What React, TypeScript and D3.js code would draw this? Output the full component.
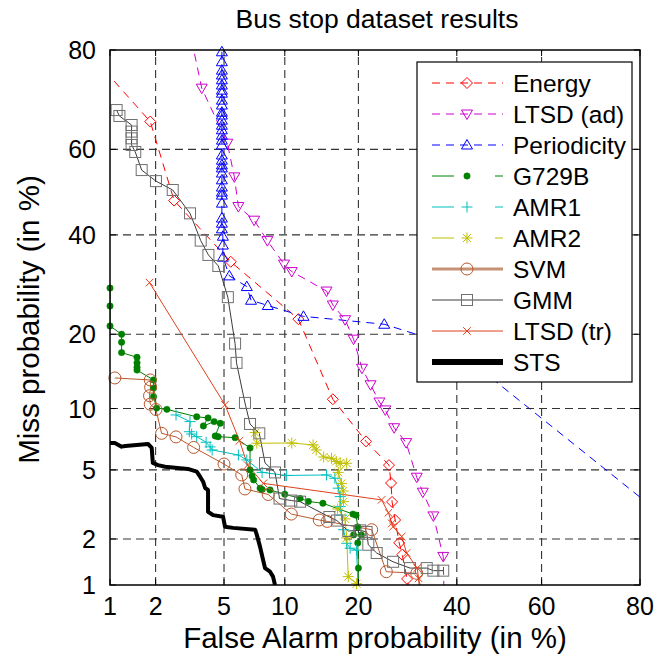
import React from 'react';
import * as d3 from 'd3';

type Pt = [number, number];

const title = 'Bus stop dataset results';
const xLabel = 'False Alarm probability (in %)';
const yLabel = 'Miss probability (in %)';
const xTicks = [1, 2, 5, 10, 20, 40, 60, 80];
const yTicks = [1, 2, 5, 10, 20, 40, 60, 80];

const energy: Pt[] = [[0.92,76.4],[1.85,66.2],[2.6,48.0],[5.43,34.0],[11.5,22.6],[16.0,11.0],[21.3,7.0],[25.5,5.3],[25.9,4.25],[26.1,3.33],[26.7,2.61],[27.5,1.89],[28.1,1.59],[29.1,1.1],[29.7,0.85]];
const ltsdAd: Pt[] = [[3.3,81.6],[3.77,73.1],[5.21,61.4],[5.67,53.6],[5.95,46.6],[7.15,43.4],[8.29,38.7],[9.92,33.5],[10.75,31.9],[15.1,27.9],[16.0,25.2],[17.85,22.5],[19.2,19.2],[20.6,14.85],[22.1,12.7],[23.7,10.7],[24.8,9.86],[26.5,8.15],[28.9,6.9],[31.1,4.57],[32.4,3.78],[34.7,2.76],[36.9,1.55],[37.1,0.79]];
const periodicity: Pt[] = [[4.87,79.7],[4.87,78.0],[4.87,76.5],[4.87,75.6],[4.87,74.7],[4.87,73.7],[4.87,72.7],[4.87,72.1],[4.87,70.7],[4.87,69.7],[4.87,68.2],[4.87,67.6],[4.87,66.5],[4.87,65.4],[4.87,64.4],[4.87,63.2],[4.87,62.1],[4.87,61.0],[4.87,58.7],[4.87,57.5],[4.87,56.4],[4.87,55.7],[4.87,54.5],[4.87,52.9],[4.87,51.2],[4.87,50.0],[4.87,49.3],[4.87,47.4],[4.87,43.9],[4.87,42.7],[4.87,41.4],[4.93,39.7],[4.93,37.7],[4.93,35.0],[5.34,31.0],[6.57,28.8],[6.9,26.1],[8.33,25.1],[12.1,23.1],[24.6,21.7],[38.4,18.3],[80.8,3.37]];
const g729b: Pt[] = [[1.0,28.5],[1.0,25.0],[1.0,21.4],[1.2,20.0],[1.2,18.7],[1.2,17.1],[1.52,16.4],[1.52,15.6],[1.52,15.0],[1.52,14.6],[1.94,13.3],[1.94,12.3],[1.94,11.3],[2.03,10.05],[2.35,9.92],[3.53,9.17],[4.09,9.06],[3.85,8.31],[4.42,8.71],[4.77,8.55],[4.48,7.44],[4.65,7.38],[5.72,7.3],[6.82,6.49],[6.82,5.0],[6.98,4.64],[7.11,4.42],[7.65,3.98],[7.82,3.91],[8.54,3.89],[10.0,3.68],[11.7,3.49],[12.7,3.35],[14.6,3.27],[19.1,2.83],[19.6,2.79],[19.9,2.37],[19.2,2.12],[20.5,2.12],[19.9,1.89],[20.0,1.3],[20.0,0.92]];
const amr1: Pt[] = [[2.67,9.35],[3.23,8.71],[3.2,7.8],[3.3,7.6],[3.53,7.38],[3.99,6.93],[4.2,6.57],[4.31,6.34],[5.95,5.98],[6.57,5.64],[7.82,4.85],[10.2,4.67],[15.1,4.7],[16.3,4.51],[16.8,3.98],[17.1,3.57],[17.1,3.13],[17.3,2.79],[17.6,2.28],[18.1,1.88],[18.65,1.75],[19.7,1.7],[19.95,0.92]];
const amr2: Pt[] = [[7.23,7.72],[7.37,6.85],[10.75,6.87],[13.3,6.72],[13.7,6.34],[14.7,5.84],[15.8,5.75],[16.5,5.54],[17.1,5.42],[18.1,5.42],[16.8,4.85],[17.3,4.23],[17.55,3.84],[17.6,3.34],[16.7,3.03],[17.85,2.65],[18.1,2.03],[18.35,1.14],[19.7,1.02]];
const svm: Pt[] = [[1.08,13.56],[1.85,13.3],[1.86,12.4],[1.83,11.4],[1.85,10.46],[2.01,9.9],[2.18,7.66],[2.67,7.36],[3.39,6.53],[5.0,5.37],[6.19,4.7],[6.43,3.94],[8.37,3.67],[10.7,2.83],[14.1,2.61],[15.2,2.56],[22.3,2.28],[25.0,1.23],[31.1,1.2],[32.2,0.92]];
const gmm: Pt[] = [[1.11,68.65],[1.16,67.4],[1.4,65.45],[1.4,64.0],[1.4,62.5],[1.4,61.0],[1.48,59.4],[1.63,55.2],[2.01,52.6],[2.55,50.5],[3.23,45.0],[3.72,38.7],[4.11,35.5],[4.66,33.1],[5.24,26.7],[5.72,18.5],[5.82,15.6],[6.43,10.6],[6.82,8.49],[7.58,7.66],[8.08,5.44],[9.01,4.85],[9.46,3.48],[10.7,3.39],[11.7,3.34],[15.5,2.72],[16.6,2.59],[18.35,2.24],[20.3,2.26],[21.4,2.21],[21.7,1.84],[23.2,1.63],[26.3,1.43],[29.7,1.3],[33.25,1.3],[34.7,1.25],[36.9,1.25]];
const ltsdTr: Pt[] = [[1.83,29.6],[5.06,10.4],[6.03,7.05],[6.63,5.3],[7.93,4.23],[24.1,3.42],[25.4,2.88],[26.05,2.49],[26.3,2.38],[28.0,2.07],[29.0,1.63],[31.2,1.3],[31.5,1.11],[31.7,0.92]];
const sts: Pt[] = [[0.95,6.87],[1.08,6.87],[1.2,6.59],[1.27,6.64],[1.79,6.8],[1.89,6.49],[1.92,5.44],[2.07,5.3],[2.29,5.2],[3.14,5.06],[3.53,4.9],[3.69,4.6],[3.84,4.32],[3.94,3.99],[4.09,3.89],[4.09,2.92],[4.36,2.79],[4.94,2.73],[5.06,2.38],[5.58,2.34],[7.23,2.28],[7.37,2.12],[7.64,1.79],[7.91,1.47],[8.08,1.3],[8.54,1.23],[8.82,1.14],[9.01,1.0],[9.2,0.9]];

type Marker = 'diamond' | 'tdown' | 'tup' | 'dot' | 'plus' | 'star' | 'circle' | 'square' | 'x' | 'none';
interface Series { name: string; data: Pt[]; color: string; lineColor?: string; dash?: string; marker: Marker; width: number; legendColor?: string; legendWidth?: number; legendSplit?: boolean; }

const series: Series[] = [
  { name: 'Energy', data: energy, color: '#ff0000', dash: '8,6', marker: 'diamond', width: 1 },
  { name: 'LTSD (ad)', data: ltsdAd, color: '#cc00cc', dash: '8,6', marker: 'tdown', width: 1 },
  { name: 'Periodicity', data: periodicity, color: '#0000ff', dash: '8,6', marker: 'tup', width: 1 },
  { name: 'G729B', data: g729b, color: '#008000', marker: 'dot', width: 1, legendSplit: true },
  { name: 'AMR1', data: amr1, color: '#00bfbf', marker: 'plus', width: 1, legendSplit: true },
  { name: 'AMR2', data: amr2, color: '#bfbf00', marker: 'star', width: 1, legendSplit: true },
  { name: 'SVM', data: svm, color: '#b9582c', marker: 'circle', width: 1, legendColor: '#c69174', legendWidth: 3 },
  { name: 'GMM', data: gmm, color: '#707070', lineColor: '#3c3c3c', marker: 'square', width: 1 },
  { name: 'LTSD (tr)', data: ltsdTr, color: '#e0401c', marker: 'x', width: 1 },
  { name: 'STS', data: sts, color: '#000000', marker: 'none', width: 4, legendWidth: 6 },
];

function probit(p: number): number {
  const a = [-3.969683028665376e1, 2.209460984245205e2, -2.759285104469687e2, 1.38357751867269e2, -3.066479806614716e1, 2.506628277459239];
  const b = [-5.447609879822406e1, 1.615858368580409e2, -1.556989798598866e2, 6.680131188771972e1, -1.328068155288572e1];
  const c = [-7.784894002430293e-3, -3.223964580411365e-1, -2.400758277161838, -2.549732539343734, 4.374664141464968, 2.938163982698783];
  const d = [7.784695709041462e-3, 3.224671290700398e-1, 2.445134137142996, 3.754408661907416];
  const pl = 0.02425;
  if (p < pl) {
    const q = Math.sqrt(-2 * Math.log(p));
    return (((((c[0]*q+c[1])*q+c[2])*q+c[3])*q+c[4])*q+c[5]) / ((((d[0]*q+d[1])*q+d[2])*q+d[3])*q+1);
  }
  if (p <= 1 - pl) {
    const q = p - 0.5, r = q * q;
    return (((((a[0]*r+a[1])*r+a[2])*r+a[3])*r+a[4])*r+a[5])*q / (((((b[0]*r+b[1])*r+b[2])*r+b[3])*r+b[4])*r+1);
  }
  const q = Math.sqrt(-2 * Math.log(1 - p));
  return -(((((c[0]*q+c[1])*q+c[2])*q+c[3])*q+c[4])*q+c[5]) / ((((d[0]*q+d[1])*q+d[2])*q+d[3])*q+1);
}

const L = 110, R = 640, T = 50, B = 585;
const xs = d3.scaleLinear().domain([probit(0.01), probit(0.8)]).range([L, R]);
const ys = d3.scaleLinear().domain([probit(0.01), probit(0.8)]).range([B, T]);
const px = (v: number) => xs(probit(v / 100));
const py = (v: number) => ys(probit(v / 100));

function drawMarker(m: Marker, x: number, y: number, color: string, key: string) {
  const sw = 1;
  switch (m) {
    case 'diamond':
      return <path key={key} d={`M${x},${y-5.5}L${x+5.5},${y}L${x},${y+5.5}L${x-5.5},${y}Z`} fill="none" stroke={color} strokeWidth={sw} />;
    case 'tdown':
      return <path key={key} d={`M${x-5.5},${y-4}L${x+5.5},${y-4}L${x},${y+5.5}Z`} fill="none" stroke={color} strokeWidth={sw} />;
    case 'tup':
      return <path key={key} d={`M${x-5.5},${y+4}L${x+5.5},${y+4}L${x},${y-5.5}Z`} fill="none" stroke={color} strokeWidth={sw} />;
    case 'dot':
      return <circle key={key} cx={x} cy={y} r={3.2} fill={color} stroke={color} strokeWidth={0.5} />;
    case 'plus':
      return <path key={key} d={`M${x-5.5},${y}H${x+5.5}M${x},${y-5.5}V${y+5.5}`} fill="none" stroke={color} strokeWidth={sw} />;
    case 'star':
      return <path key={key} d={`M${x-5.5},${y}H${x+5.5}M${x},${y-5.5}V${y+5.5}M${x-4},${y-4}L${x+4},${y+4}M${x-4},${y+4}L${x+4},${y-4}`} fill="none" stroke={color} strokeWidth={sw} />;
    case 'circle':
      return <circle key={key} cx={x} cy={y} r={6} fill="none" stroke={color} strokeWidth={sw} />;
    case 'square':
      return <rect key={key} x={x-5.5} y={y-5.5} width={11} height={11} fill="none" stroke={color} strokeWidth={sw} />;
    case 'x':
      return <path key={key} d={`M${x-3.8},${y-3.8}L${x+3.8},${y+3.8}M${x-3.8},${y+3.8}L${x+3.8},${y-3.8}`} fill="none" stroke={color} strokeWidth={sw} />;
    default:
      return null;
  }
}

export default function App() {
  const line = d3.line<Pt>().x(d => px(d[0])).y(d => py(d[1]));
  const font = '"Liberation Sans", Arial, Helvetica, sans-serif';
  const inside = (d: Pt) => d[0] >= 0.99 && d[0] <= 80.5 && d[1] >= 0.99 && d[1] <= 80.5;
  const legX = 417, legY = 62, legW = 215, legH = 320;
  const rowY = (i: number) => 83 + i * 31;
  return (
    <svg width={660} height={658} style={{ position: 'absolute', left: 0, top: 0, background: '#fff' }} fontFamily={font}>
      <defs>
        <clipPath id="plotClip"><rect x={L} y={T} width={R - L} height={B - T} /></clipPath>
      </defs>
      <rect x={0} y={0} width={660} height={658} fill="#fff" />
      <g stroke="#333" strokeWidth={1.1} strokeDasharray="8,5">
        {xTicks.slice(1, -1).map(t => <line key={'gx' + t} x1={px(t)} x2={px(t)} y1={B} y2={T} />)}
        {yTicks.slice(1, -1).map(t => <line key={'gy' + t} x1={L} x2={R} y1={py(t)} y2={py(t)} />)}
      </g>
      <g clipPath="url(#plotClip)">
        {series.map(s => (
          <path key={'l' + s.name} d={line(s.data) || ''} fill="none" stroke={s.lineColor || s.color} strokeWidth={s.width} strokeDasharray={s.dash} strokeLinejoin="round" />
        ))}
      </g>
      <g>
        {series.map(s => s.data.filter(inside).map((d, i) => drawMarker(s.marker, px(d[0]), py(d[1]), s.color, s.name + i)))}
      </g>
      <rect x={L} y={T} width={R - L} height={B - T} fill="none" stroke="#000" strokeWidth={1.5} />
      <g stroke="#000" strokeWidth={1}>
        {xTicks.map(t => <g key={'tx' + t}>
          <line x1={px(t)} x2={px(t)} y1={B} y2={B - 6} />
          <line x1={px(t)} x2={px(t)} y1={T} y2={T + 6} />
        </g>)}
        {yTicks.map(t => <g key={'ty' + t}>
          <line x1={L} x2={L + 6} y1={py(t)} y2={py(t)} />
          <line x1={R} x2={R - 6} y1={py(t)} y2={py(t)} />
        </g>)}
      </g>
      <g fontSize={25} fill="#000">
        {xTicks.map(t => <text key={'xl' + t} x={px(t)} y={615} textAnchor="middle">{t}</text>)}
        {yTicks.map(t => <text key={'yl' + t} x={96} y={py(t) + 9} textAnchor="end">{t}</text>)}
      </g>
      <text x={(L + R) / 2 + 2} y={28} fontSize={26.5} textAnchor="middle">{title}</text>
      <text x={(L + R) / 2} y={648} fontSize={29.5} textAnchor="middle">{xLabel}</text>
      <text transform={`translate(39,${(T + B) / 2 + 2}) rotate(-90)`} fontSize={29.5} textAnchor="middle">{yLabel}</text>
      <rect x={legX} y={legY} width={legW} height={legH} fill="#fff" stroke="#000" strokeWidth={1.2} />
      {series.map((s, i) => {
        const y = rowY(i);
        const col = s.legendColor || s.lineColor || s.color;
        const w = s.legendWidth || s.width;
        return (
          <g key={'lg' + s.name}>
            {s.legendSplit ? (
              <g stroke={col} strokeWidth={w}>
                <line x1={432} x2={454} y1={y} y2={y} />
                <line x1={495} x2={503} y1={y} y2={y} />
              </g>
            ) : (
              <line x1={432} x2={503} y1={y} y2={y} stroke={col} strokeWidth={w} strokeDasharray={s.dash} />
            )}
            {drawMarker(s.marker, 467, y, s.color, 'lm' + i)}
            <text x={513} y={y + 9} fontSize={24.5}>{s.name}</text>
          </g>
        );
      })}
    </svg>
  );
}
